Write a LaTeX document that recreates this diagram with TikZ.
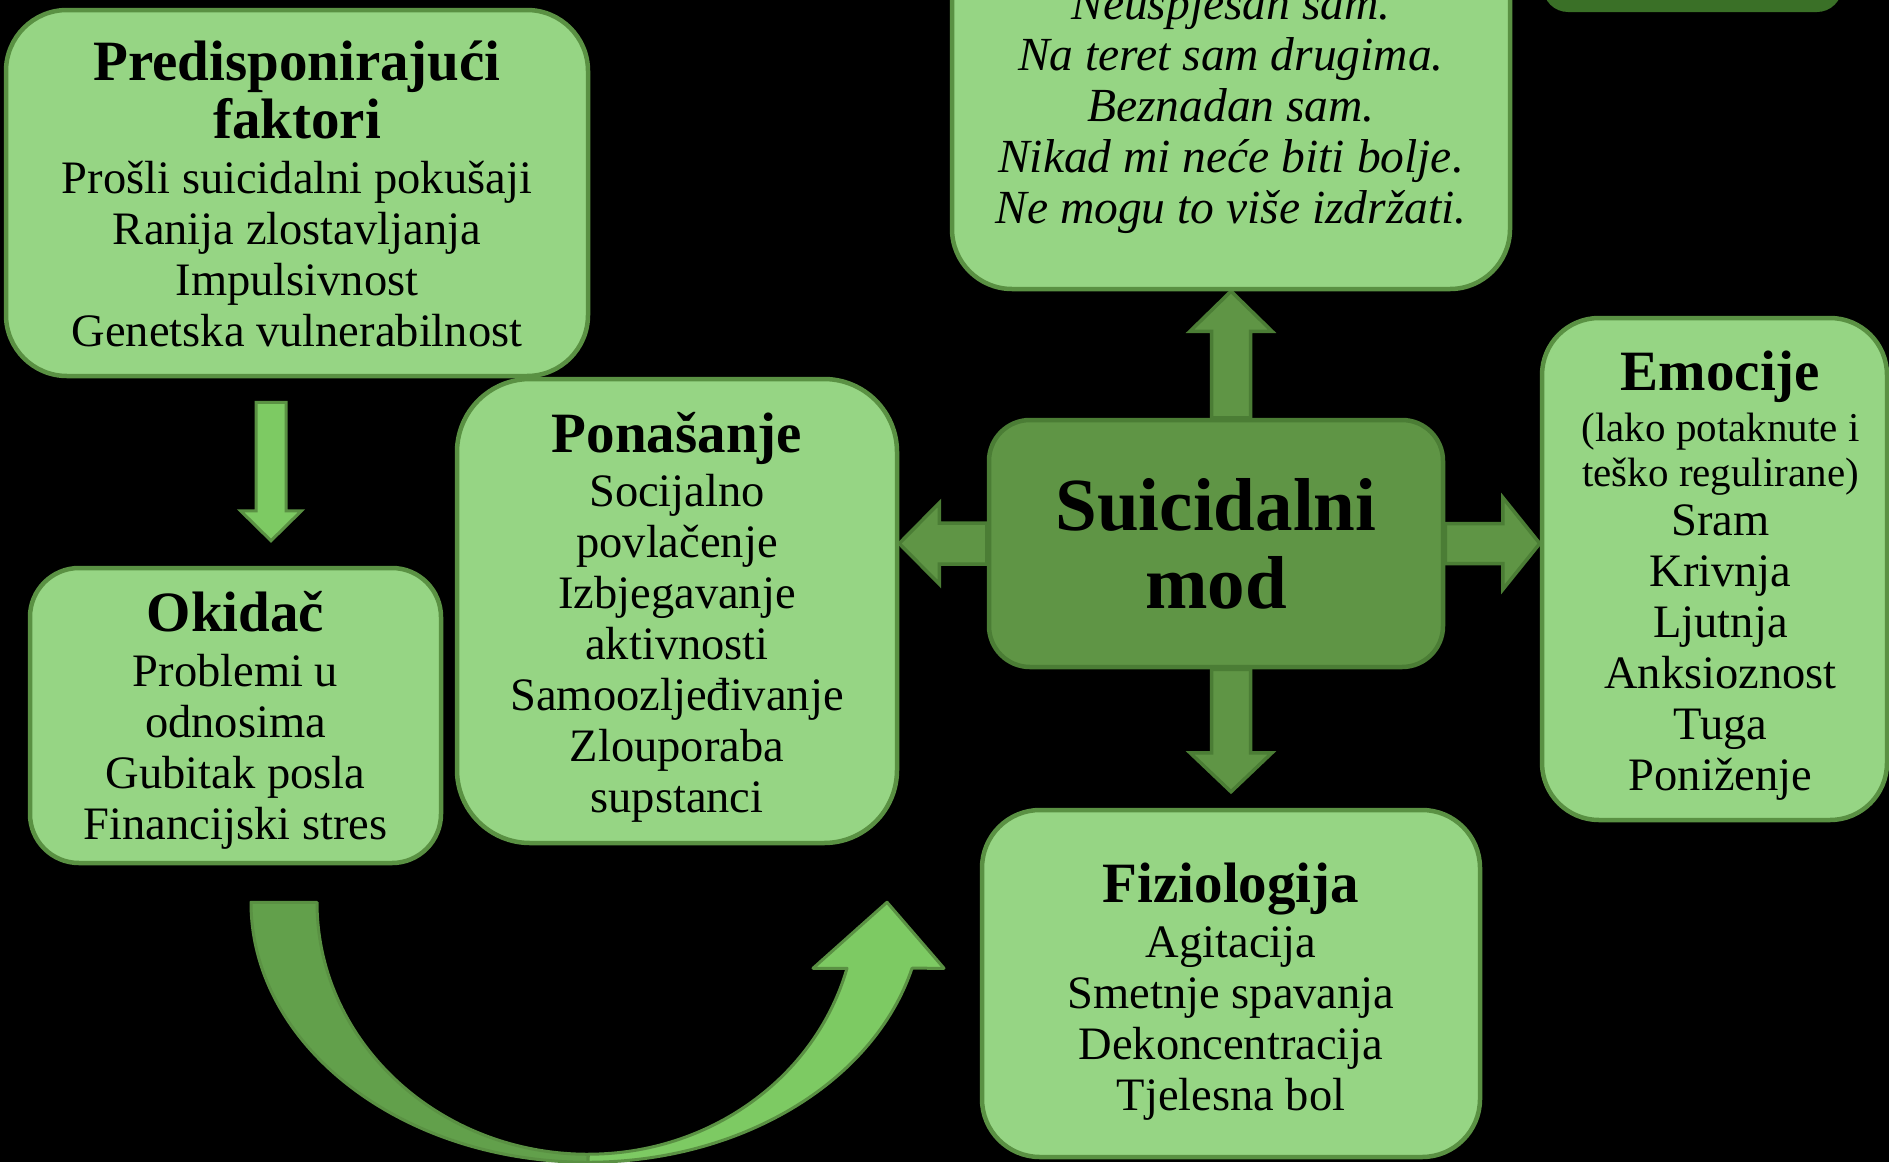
\documentclass[tikz,border=0pt]{standalone}
\usepackage{fontspec}
\setmainfont{Liberation Serif}
\usetikzlibrary{calc,backgrounds}
\definecolor{boxfill}{HTML}{96D584}
\definecolor{boxline}{HTML}{5A9143}
\definecolor{modfill}{HTML}{5F9545}
\definecolor{modline}{HTML}{4B7D35}
\definecolor{arrlight}{HTML}{7DCA63}
\definecolor{arrdark}{HTML}{62A04B}
\definecolor{topdark}{HTML}{3A7027}
\newcommand{\ttl}[1]{{\bfseries\fontsize{57}{51}\selectfont #1}}
\newcommand{\sml}[1]{{\fontsize{41}{45}\selectfont #1}}
% block arrow: tail, tip, shaft half width, head half width, head length, style
\newcommand{\blkarrow}[6]{%
  \coordinate (hb) at ($(#2)!#5!(#1)$);
  \draw[#6] ($(#1)!#3!90:(#2)$) -- ($(hb)!#3!90:(#2)$) -- ($(hb)!#4!90:(#2)$)
    -- (#2) -- ($(hb)!#4!-90:(#2)$) -- ($(hb)!#3!-90:(#2)$)
    -- ($(#1)!#3!-90:(#2)$) -- cycle;}
\tikzset{
  gbox/.style={draw=boxline, fill=boxfill, line width=4.5pt, rounded corners=#1, inner sep=0pt},
  txt/.style={align=center, inner sep=0pt, font=\fontsize{46.5}{51}\selectfont},
  lightarrow/.style={fill=arrlight, draw=boxline, line width=3pt, line join=miter},
  modarrow/.style={fill=modfill, draw=modline, line width=3.5pt, line join=miter},
  curveband/.style={draw=boxline, line width=3pt, line join=round},
}
\begin{document}
\begin{tikzpicture}[x=1pt, y=-1pt]
\useasboundingbox (0,0) rectangle (1889,1162);
\begin{scope}[on background layer]
  \fill[black] (0,0) rectangle (1889,1162);
\end{scope}
\clip (0,0) rectangle (1889,1162);

% boxes
\node[fill=topdark, rounded corners=25pt, minimum width=299pt, minimum height=120pt, inner sep=0pt] (tdark) at (1692.5,-48) {};

\node[gbox=61pt, minimum width=582pt, minimum height=366pt] (pred) at (297,193) {};
\node[txt] (predT) at ($(pred.center)+(0,1)$)
  {\ttl{Predisponirajući}\\[4pt]\ttl{faktori}\\[4pt]Prošli suicidalni pokušaji\\Ranija zlostavljanja\\Impulsivnost\\Genetska vulnerabilnost};

\node[gbox=60pt, minimum width=558pt, minimum height=368pt] (misli) at (1231,105) {};
\node[txt, font=\itshape\fontsize{47.5}{51}\selectfont] (misliT) at ($(misli.center)+(0,5)$)
  {Neuspješan sam.\\Na teret sam drugima.\\Beznadan sam.\\Nikad mi neće biti bolje.\\Ne mogu to više izdržati.};

\node[gbox=49pt, minimum width=411pt, minimum height=295pt] (okid) at (235.5,715.5) {};
\node[txt] (okidT) at ($(okid.center)+(0,5)$)
  {\ttl{Okidač}\\[4pt]Problemi u\\odnosima\\Gubitak posla\\Financijski stres};

\node[gbox=73pt, minimum width=440pt, minimum height=464pt] (pon) at (677,611) {};
\node[txt] (ponT) at ($(pon.center)+(0,6)$)
  {\ttl{Ponašanje}\\[3pt]Socijalno\\povlačenje\\Izbjegavanje\\aktivnosti\\Samoozljeđivanje\\Zlouporaba\\supstanci};

\node[draw=modline, fill=modfill, line width=4.5pt, rounded corners=41pt, minimum width=454pt, minimum height=247pt,
  inner sep=0pt, align=center, font=\bfseries\fontsize{75}{78}\selectfont] (mod) at (1216,543.5) {Suicidalni\\mod};

\node[gbox=57pt, minimum width=345pt, minimum height=502pt] (emo) at (1714.5,569) {};
\node[txt] (emoT) at ($(emo.center)+(6,7)$)
  {\ttl{Emocije}\\\sml{(lako potaknute i}\\[-6pt]\sml{teško regulirane)}\\[-2pt]Sram\\Krivnja\\Ljutnja\\Anksioznost\\Tuga\\Poniženje};

\node[gbox=58pt, minimum width=498pt, minimum height=347pt] (fiz) at (1231,983.5) {};
\node[txt] (fizT) at ($(fiz.center)+(0,8)$)
  {\ttl{Fiziologija}\\[4pt]Agitacija\\Smetnje spavanja\\Dekoncentracija\\Tjelesna bol};

% connector end points
\coordinate (pA) at ($(pred.south)+(-26,24)$);
\coordinate (pB) at ($(okid.north)+(35.5,-25)$);
\coordinate (uA) at (mod.north -| misli.south);
\coordinate (uB) at (misli.south);
\coordinate (dA) at (mod.south -| fiz.north);
\coordinate (dB) at ($(fiz.north)+(0,-16)$);
\coordinate (lA) at (mod.west);
\coordinate (lB) at (pon.east |- mod.west);
\coordinate (rA) at (mod.east);
\coordinate (rB) at (emo.west |- mod.east);

\begin{scope}[on background layer]
  \blkarrow{pA}{pB}{15pt}{30.5pt}{30pt}{lightarrow}
  \blkarrow{uA}{uB}{19.5pt}{41pt}{40pt}{modarrow}
  \blkarrow{dA}{dB}{19.5pt}{41pt}{39pt}{modarrow}
  \blkarrow{lA}{lB}{20.5pt}{40.5pt}{40pt}{modarrow}
  \blkarrow{rA}{rB}{20pt}{46pt}{37pt}{modarrow}
\end{scope}

% curved arrow from Okidac towards Fiziologija
\coordinate (cv) at ($(okid.south)+(352.5,37)$);
\filldraw[curveband, fill=arrdark] ($(cv)+(-337,0)$) arc[start angle=180, end angle=90, x radius=337, y radius=260]
  -- ++(0,-8) arc[start angle=90, end angle=180, x radius=271, y radius=252] -- cycle;
\filldraw[curveband, fill=arrlight] ($(cv)+(0,260)$) arc[start angle=90, end angle=14.7, x radius=335, y radius=260]
  -- ($(cv)+(356,66)$) -- ($(cv)+(299,0)$) -- ($(cv)+(225,66)$) -- ($(cv)+(259,66)$)
  arc[start angle=15.2, end angle=90, x radius=268, y radius=252] -- cycle;
\end{tikzpicture}
\end{document}
